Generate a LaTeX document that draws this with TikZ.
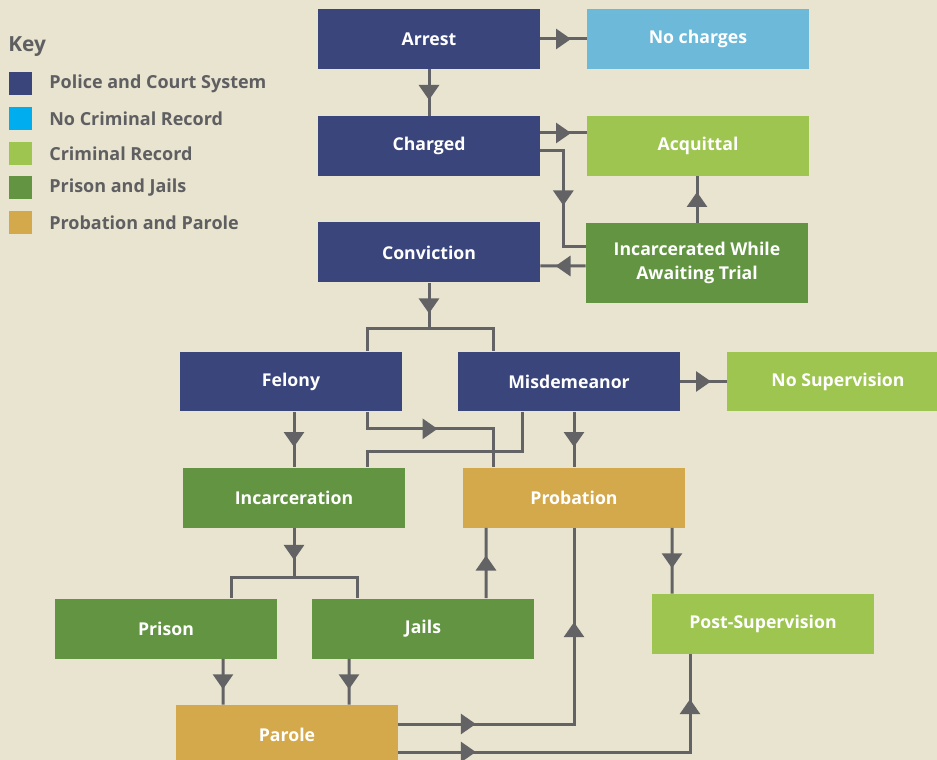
\documentclass[tikz,border=0pt]{standalone}
\usepackage{fontspec}
\setmainfont{Open Sans}
\usetikzlibrary{arrows.meta,calc,decorations.markings}
\definecolor{bg}{HTML}{E8E4D0}
\definecolor{court}{HTML}{39457B}
\definecolor{nocharge}{HTML}{6CB9DA}
\definecolor{norecord}{HTML}{00AEEF}
\definecolor{record}{HTML}{9DC54F}
\definecolor{jail}{HTML}{629442}
\definecolor{parole}{HTML}{D4A94C}
\definecolor{wire}{HTML}{636366}
\definecolor{keytxt}{HTML}{5F5F62}
\begin{document}
\begin{tikzpicture}[x=0.6pt,y=-0.6pt,
    box/.style={minimum width=133.2pt,minimum height=36pt,inner sep=0pt,
        text=white,font=\fontsize{10.6}{14.4}\selectfont\bfseries,align=center},
    link/.style={draw=wire,line width=1.8pt},
    mid/.style={postaction={decorate,decoration={markings,
        mark=at position #1 with {\arrow[xshift=4.5pt,wire]{Triangle[width=12pt,length=9pt]}}}}},
    keybox/.style={minimum size=13.8pt,inner sep=0pt},
    keytext/.style={anchor=west,inner sep=0pt,text=keytxt,font=\fontsize{10.8}{12}\selectfont\bfseries}]
    %% Background
    \fill[bg] (0,0) rectangle (937,760);
    \useasboundingbox (0,0) rectangle (937,760);
    \begin{scope}
    \clip (0,0) rectangle (937,760);
    %% Key
    \node[anchor=west,inner sep=0pt,text=keytxt,font=\fontsize{12.5}{14}\selectfont\bfseries] (key) at (8,47) {Key};
    \node[keybox,fill=court] (k1) at (20.5,83.5) {};
    \node[keytext] (t1) at (49,84) {Police and Court System};
    \node[keybox,fill=norecord] (k2) at (20.5,118.5) {};
    \node[keytext] (t2) at (49,119) {No Criminal Record};
    \node[keybox,fill=record] (k3) at (20.5,153.5) {};
    \node[keytext] (t3) at (49,154) {Criminal Record};
    \node[keybox,fill=jail] (k4) at (20.5,187.5) {};
    \node[keytext] (t4) at (49,188) {Prison and Jails};
    \node[keybox,fill=parole] (k5) at (20.5,222.5) {};
    \node[keytext] (t5) at (49,223) {Probation and Parole};
    %% Boxes
    \node[box,fill=court] (arrest) at (429,39) {Arrest};
    \node[box,fill=nocharge] (nocharges) at (698,39) {No charges};
    \node[box,fill=court] (charged) at (429,146) {Charged};
    \node[box,fill=record] (acquittal) at (698,146) {Acquittal};
    \node[box,fill=court] (conviction) at (429,252.5) {Conviction};
    \node[box,fill=jail,minimum height=48pt] (awaiting) at (697,263) {Incarcerated While\\Awaiting Trial};
    \node[box,fill=court] (felony) at (291,381.5) {Felony};
    \node[box,fill=court] (misdemeanor) at (569,381.5) {Misdemeanor};
    \node[box,fill=record] (nosupervision) at (838,381.5) {No Supervision};
    \node[box,fill=jail] (incarceration) at (294,497.5) {Incarceration};
    \node[box,fill=parole] (probation) at (574,497.5) {Probation};
    \node[box,fill=jail] (prison) at (166,628.5) {Prison};
    \node[box,fill=jail] (jails) at (423,628.5) {Jails};
    \node[box,fill=record] (postsupervision) at (763,624) {Post-Supervision};
    \node[box,fill=parole] (parole) at (287,735) {Parole};
    \coordinate (split1) at (429,329);
    \coordinate (split2) at (294,577);
    %% Connectors
    \draw[link,mid=0.5] (arrest.east) -- (nocharges.west);
    \draw[link,mid=0.5] (arrest.south) -- (charged.north);
    \draw[link,mid=0.5] ([yshift=7.8pt]charged.east) -- ([yshift=7.8pt]acquittal.west);
    \draw[link,mid=42pt] ([yshift=-3pt]charged.east) -- ++(13.8pt,0) |- ([yshift=9.6pt]awaiting.west);
    \draw[link,mid=0.5] ([yshift=-1.8pt]awaiting.west) -- ([yshift=-8.1pt]conviction.east);
    \draw[link,mid=0.5] (awaiting.north) -- (awaiting.north |- acquittal.south);
    \draw[link,mid=0.5] (conviction.south) -- (split1);
    \draw[link] ([xshift=45.6pt]felony.north) |- (split1) -| ([xshift=-45.6pt]misdemeanor.north);
    \draw[link,mid=48pt] ([xshift=45.6pt]felony.south) -- ++(0,-10.2pt) -| ([xshift=-48.6pt]probation.north);
    \draw[link] ([xshift=-28.2pt]misdemeanor.south) -- ++(0,-24pt) -| ([xshift=43.8pt]incarceration.north);
    \draw[link,mid=0.5] (incarceration.north |- felony.south) -- (incarceration.north);
    \draw[link,mid=0.5] (probation.north |- misdemeanor.south) -- (probation.north);
    \draw[link,mid=0.5] (misdemeanor.east) -- (nosupervision.west);
    \draw[link,mid=0.5] (incarceration.south) -- (split2);
    \draw[link] ([xshift=39pt]prison.north) |- (split2) -| ([xshift=-39.6pt]jails.north);
    \draw[link,mid=0.5] ([xshift=37.8pt]jails.north) -- ([xshift=-52.8pt]probation.south);
    \draw[link,mid=0.5] ([xshift=34.2pt]prison.south) -- ([xshift=-38.4pt]parole.north);
    \draw[link,mid=0.5] ([xshift=-44.4pt]jails.south) -- ([xshift=37.2pt]parole.north);
    \draw[link,postaction={decorate,decoration={markings,
        mark=at position 42pt with {\arrow[xshift=4.5pt,wire]{Triangle[width=12pt,length=9pt]}},
        mark=at position 162pt with {\arrow[xshift=4.5pt,wire]{Triangle[width=12pt,length=9pt]}}}}]
        ([yshift=6.6pt]parole.east) -| (probation.south);
    \draw[link,postaction={decorate,decoration={markings,
        mark=at position 42pt with {\arrow[xshift=4.5pt,wire]{Triangle[width=12pt,length=9pt]}},
        mark=at position 202.2pt with {\arrow[xshift=4.5pt,wire]{Triangle[width=12pt,length=9pt]}}}}]
        ([yshift=-10.2pt]parole.east) -| ([xshift=-43.8pt]postsupervision.south);
    \draw[link,mid=0.5] ([xshift=58.8pt]probation.south) -- ([xshift=-54.6pt]postsupervision.north);
    \end{scope}
\end{tikzpicture}
\end{document}
